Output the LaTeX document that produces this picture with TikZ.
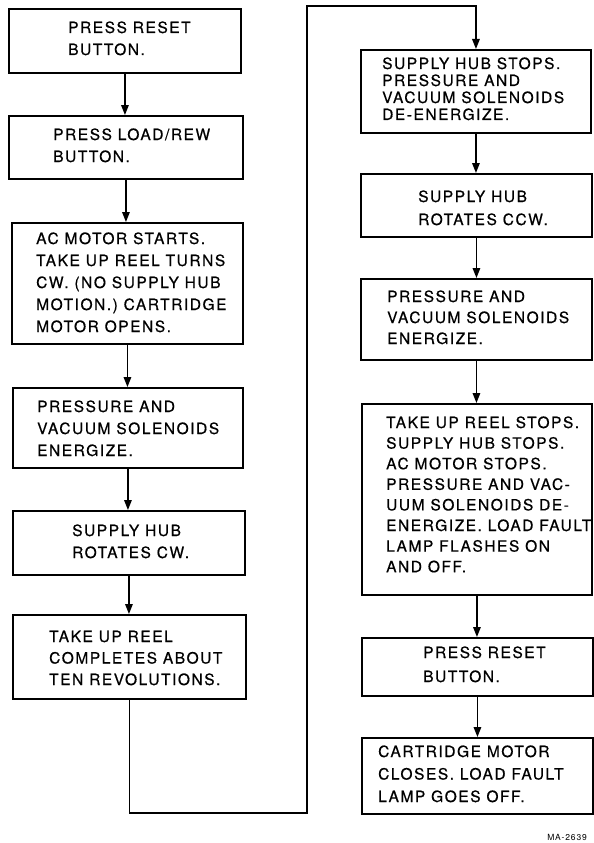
\documentclass[tikz,border=0pt]{standalone}
\usepackage{fontspec}
\setmainfont{TeX Gyre Heros}[LetterSpace=10,FakeBold=0.6]
\usetikzlibrary{arrows.meta}
\newcommand\tlines[2]{\vtop{\let\\\cr\baselineskip=#1pt\lineskiplimit=-100pt\halign{##\hfil\cr#2\crcr}}}
\tikzset{
  box/.style={draw, line width=1.9pt, inner sep=0pt, anchor=north west},
  txt/.style={inner sep=0pt, anchor=base west, font=\fontsize{15.5}{18}\selectfont},
  arr/.style={line width=1.5pt, -{Triangle[length=10pt,width=7.5pt]}},
}
\begin{document}
\begin{tikzpicture}[x=1pt,y=-1pt]
\useasboundingbox (0,0) rectangle (594,843);
% left column
\node[box, minimum width=232pt, minimum height=64pt] (L1) at (8,8) {};
\node[txt] (t1) at (68,33) {\tlines{22}{PRESS RESET\\BUTTON.}};
\node[box, minimum width=234pt, minimum height=63pt] (L2) at (8,115) {};
\node[txt] (t2) at (53,140) {\tlines{22}{PRESS LOAD/REW\\BUTTON.}};
\node[box, minimum width=231pt, minimum height=121pt] (L3) at (11,222) {};
\node[txt] (t3) at (36,244) {\tlines{22}{AC MOTOR STARTS.\\TAKE UP REEL TURNS\\CW. (NO SUPPLY HUB\\MOTION.) CARTRIDGE\\MOTOR OPENS.}};
\node[box, minimum width=230pt, minimum height=80pt] (L4) at (12,387) {};
\node[txt] (t4) at (37,412) {\tlines{22}{PRESSURE AND\\VACUUM SOLENOIDS\\ENERGIZE.}};
\node[box, minimum width=232pt, minimum height=64pt] (L5) at (12,510) {};
\node[txt] (t5) at (72,536) {\tlines{22}{SUPPLY HUB\\ROTATES CW.}};
\node[box, minimum width=233pt, minimum height=84pt] (L6) at (12,614) {};
\node[txt] (t6) at (49,642) {\tlines{21.5}{TAKE UP REEL\\COMPLETES ABOUT\\TEN REVOLUTIONS.}};
% right column
\node[box, minimum width=230pt, minimum height=83pt] (R1) at (360,49) {};
\node[txt] (r1) at (382,69) {\tlines{17}{SUPPLY HUB STOPS.\\PRESSURE AND\\VACUUM SOLENOIDS\\DE-ENERGIZE.}};
\node[box, minimum width=231pt, minimum height=63pt] (R2) at (360,173) {};
\node[txt] (r2) at (418,202) {\tlines{23}{SUPPLY HUB\\ROTATES CCW.}};
\node[box, minimum width=231pt, minimum height=81pt] (R3) at (360,278) {};
\node[txt] (r3) at (387,302) {\tlines{21}{PRESSURE AND\\VACUUM SOLENOIDS\\ENERGIZE.}};
\node[box, minimum width=230pt, minimum height=191pt] (R4) at (361,403) {};
\node[txt] (r4) at (386,428) {\tlines{20.6}{TAKE UP REEL STOPS.\\SUPPLY HUB STOPS.\\AC MOTOR STOPS.\\PRESSURE AND VAC-\\UUM SOLENOIDS DE-\\ENERGIZE. LOAD FAULT\\LAMP FLASHES ON\\AND OFF.}};
\node[box, minimum width=231pt, minimum height=58pt] (R5) at (361,637) {};
\node[txt] (r5) at (423,658) {\tlines{24}{PRESS RESET\\BUTTON.}};
\node[box, minimum width=231pt, minimum height=76pt] (R6) at (361,737) {};
\node[txt] (r6) at (378,757) {\tlines{22.5}{CARTRIDGE MOTOR\\CLOSES. LOAD FAULT\\LAMP GOES OFF.}};
% connectors
\draw[arr] (L1.south) -- (L1.south |- L2.north);
\draw[arr] (L2.south) -- (L2.south |- L3.north);
\draw[arr] (L3.south) -- (L3.south |- L4.north);
\draw[arr] (L4.south) -- (L4.south |- L5.north);
\draw[arr] (L5.south) -- (L5.south |- L6.north);
\coordinate (cb) at (307,813);
\coordinate (ct) at (307,6);
\draw[arr] (L6.south) |- (cb) -- (ct) -| (R1.north);
\draw[arr] (R1.south) -- (R1.south |- R2.north);
\draw[arr] (R2.south) -- (R2.south |- R3.north);
\draw[arr] (R3.south) -- (R3.south |- R4.north);
\draw[arr] (R4.south) -- (R4.south |- R5.north);
\draw[arr] (R5.south) -- (R5.south |- R6.north);
\node[anchor=base east, inner sep=0pt, font=\fontsize{8.5}{10}\selectfont\addfontfeatures{FakeBold=0}] (lbl) at (587,840) {MA-2639};
\end{tikzpicture}
\end{document}
